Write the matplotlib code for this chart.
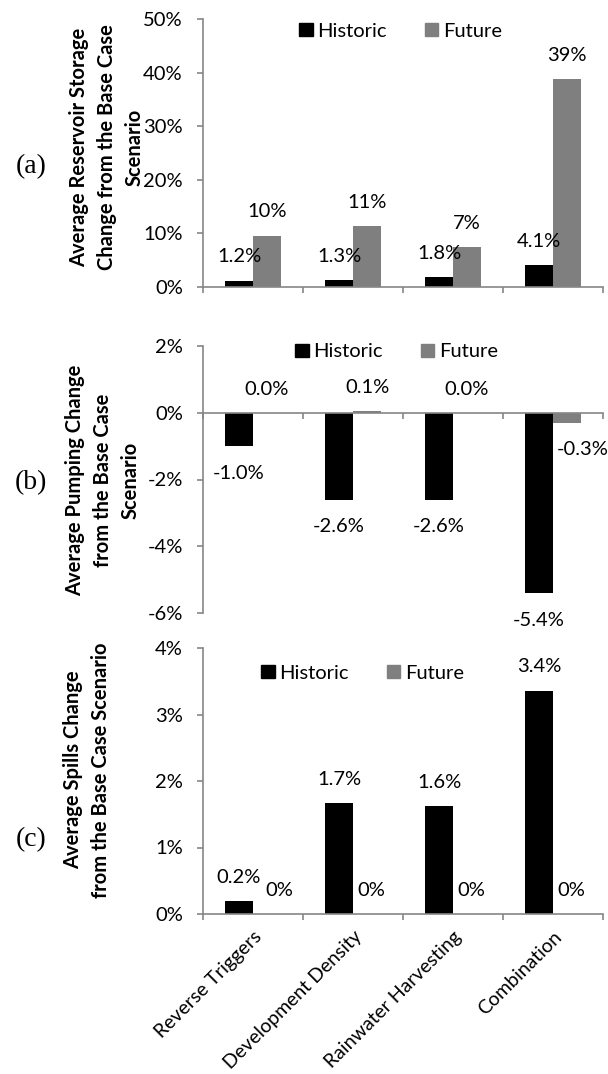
import matplotlib.pyplot as plt
from matplotlib.patches import Patch
import numpy as np

plt.rcParams['font.family'] = ['Lato', 'DejaVu Sans']

scenarios = ['Reverse Triggers', 'Development Density', 'Rainwater Harvesting', 'Combination']

# average change from the base case scenario, in percent
storage_hist = [1.2, 1.3, 1.8, 4.1]
storage_fut = [9.6, 11.3, 7.4, 38.8]
pumping_hist = [-1.0, -2.6, -2.6, -5.4]
pumping_fut = [0.0, 0.06, 0.0, -0.3]
spills_hist = [0.19, 1.67, 1.62, 3.36]
spills_fut = [0.0, 0.0, 0.0, 0.0]

HIST_COLOR = 'black'
FUT_COLOR = '#7f7f7f'
AXIS_COLOR = '#868686'
FS = 14.5
W, H = 608, 1074


def fig_xy(px, py):
    return px / W, 1 - py / H


def draw_panel(ax, hist, fut, hist_fmt, fut_fmt, ylim, ystep, legend_xy,
               show_xlabels, fut_shift=None):
    x = np.arange(len(scenarios)) + 0.5
    ax.bar(x - 0.14, hist, width=0.28, color=HIST_COLOR, zorder=2)
    ax.bar(x + 0.14, fut, width=0.28, color=FUT_COLOR, zorder=2)

    # value labels; fut_shift nudges crowded future labels sideways (points)
    fut_shift = fut_shift or [0] * len(fut)
    groups = [(x - 0.14, hist, hist_fmt, [0] * len(hist)),
              (x + 0.14, fut, fut_fmt, fut_shift)]
    for xs, vals, fmt, shifts in groups:
        for xi, v, dx in zip(xs, vals, shifts):
            off = 17 if v >= 0 else -19.5
            ax.annotate(fmt.format(v) + '%', (xi, v), xytext=(dx, off),
                        textcoords='offset points', ha='center', va='center',
                        fontsize=FS, annotation_clip=False)

    ax.set_xlim(0, 4)
    ax.set_ylim(*ylim)
    ticks = np.arange(ylim[0], ylim[1] + ystep / 2, ystep)
    ax.set_yticks(ticks)
    ax.set_yticklabels(['{:.0f}%'.format(t) for t in ticks], fontsize=FS)

    for s in ['top', 'right']:
        ax.spines[s].set_visible(False)
    ax.spines['bottom'].set_position(('data', 0))
    for s in ['left', 'bottom']:
        ax.spines[s].set_color(AXIS_COLOR)
        ax.spines[s].set_linewidth(1.2)

    ax.tick_params(axis='y', direction='out', length=4, width=1.2,
                   color=AXIS_COLOR, pad=10.5)
    # tick marks between categories, labels at the category centres
    ax.set_xticks([0, 1, 2, 3, 4], minor=True)
    ax.set_xticks(x)
    ax.tick_params(axis='x', which='minor', direction='out', length=4,
                   width=1.2, color=AXIS_COLOR)
    ax.tick_params(axis='x', which='major', length=0, pad=10)
    if show_xlabels:
        ax.set_xticklabels(scenarios, rotation=45, ha='right',
                           rotation_mode='anchor', fontsize=14)
    else:
        ax.set_xticklabels([])

    handles = [Patch(color=HIST_COLOR, label='Historic'),
               Patch(color=FUT_COLOR, label='Future')]
    ax.legend(handles=handles, loc='center', bbox_to_anchor=legend_xy, ncol=2,
              frameon=False, fontsize=FS, handlelength=0.65, handleheight=0.65,
              handletextpad=0.25, columnspacing=1.9, borderaxespad=0)


fig = plt.figure(figsize=(W / 100, H / 100), dpi=100)
left, width = 203 / W, 400 / W

ax_a = fig.add_axes([left, 1 - 287 / H, width, 268 / H])
ax_b = fig.add_axes([left, 1 - 613 / H, width, 267 / H])
ax_c = fig.add_axes([left, 1 - 914 / H, width, 266 / H])

draw_panel(ax_a, storage_hist, storage_fut, '{:.1f}', '{:.0f}', (0, 50), 10,
           (0.495, 0.955), False)
draw_panel(ax_b, pumping_hist, pumping_fut, '{:.1f}', '{:.1f}', (-6, 2), 2,
           (0.485, 0.978), False, fut_shift=[0, 0, 0, 11])
draw_panel(ax_c, spills_hist, spills_fut, '{:.1f}', '{:.0f}', (0, 4), 1,
           (0.4, 0.906), True, fut_shift=[9, 3, 3, 3])

# axis titles and panel letters
ylabels = [
    ('Average Reservoir Storage\nChange from the Base Case\nScenario', 107, 147),
    ('Average Pumping Change\nfrom the Base Case\nScenario', 103, 480),
    ('Average Spills Change\nfrom the Base Case Scenario', 87, 770),
]
for txt, px, py in ylabels:
    fx, fy = fig_xy(px, py)
    fig.text(fx, fy, txt, rotation=90, ha='center', va='center',
             multialignment='center', fontsize=14.5, fontweight='bold',
             linespacing=1.5)

for letter, py in [('(a)', 167), ('(b)', 483), ('(c)', 840)]:
    fx, fy = fig_xy(31, py)
    fig.text(fx, fy, letter, ha='center', va='center', fontsize=20,
             family='Liberation Serif')

fig.savefig('out.png', dpi=100)
